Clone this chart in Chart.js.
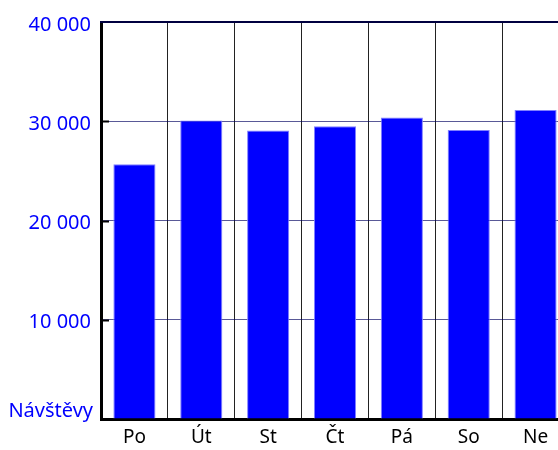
<!DOCTYPE html>
<html>
<head>
<meta charset="utf-8">
<script src="https://cdn.jsdelivr.net/npm/chart.js@4"></script>
<style>
  html, body { margin: 0; padding: 0; overflow: hidden; background: #fff; }
  #wrap { width: 580px; height: 450px; }
</style>
</head>
<body>
<div id="wrap"><canvas id="myChart" width="580" height="450"></canvas></div>
<script>
// data
var days = ["Po", "Út", "St", "Čt", "Pá", "So", "Ne"];
var visits = [25670, 30070, 29070, 29500, 30370, 29130, 31130];
var yTicks = [0, 10000, 20000, 30000, 40000];
var yTitle = "Návštěvy";

function fmt(v) {
    return String(v).replace(/\B(?=(\d{3})+(?!\d))/g, ' ');
}

// top border, little inward ticks and the "Návštěvy" label
var extras = {
    id: 'extras',
    afterDraw: function (chart) {
        var c = chart.ctx, a = chart.chartArea, y = chart.scales.y;
        c.save();
        c.strokeStyle = '#000040';
        c.lineWidth = 2;
        c.beginPath();
        c.moveTo(a.left - 1, a.top);
        c.lineTo(a.right, a.top);
        c.stroke();

        c.strokeStyle = '#000';
        c.lineWidth = 2;
        yTicks.forEach(function (t) {
            if (t === 0 || t === 40000) return;
            var py = Math.round(y.getPixelForValue(t)) + 0.5;
            c.beginPath();
            c.moveTo(a.left, py);
            c.lineTo(a.left + 8, py);
            c.stroke();
        });

        c.fillStyle = '#0000ff';
        c.font = '20px "Noto Sans"';
        c.textAlign = 'right';
        c.textBaseline = 'middle';
        c.fillText(yTitle, a.left - 8, y.getPixelForValue(0) - 8);
        c.restore();
    }
};

var ctx = document.getElementById('myChart').getContext('2d');
var chart = new Chart(ctx, {
    type: 'bar',
    data: {
        labels: days,
        datasets: [{
            data: visits,
            backgroundColor: '#0000ff',
            borderColor: '#8080ff',
            borderWidth: 1,
            barPercentage: 0.63,
            categoryPercentage: 1
        }]
    },
    options: {
        responsive: false,
        animation: false,
        layout: { padding: { top: 19, right: 11, left: 0, bottom: 0 } },
        plugins: { legend: { display: false }, tooltip: { enabled: false } },
        scales: {
            x: {
                offset: true,
                afterFit: function (s) { s.height = 31; },
                grid: { offset: true, color: '#222', lineWidth: 1, drawTicks: false },
                border: { color: '#000', width: 3 },
                ticks: { color: '#000', padding: 7, font: { family: 'Noto Sans', size: 19 } }
            },
            y: {
                z: 1,
                min: 0,
                max: 40000,
                afterFit: function (s) { s.width = 101; },
                afterBuildTicks: function (s) {
                    s.ticks = yTicks.map(function (v) { return { value: v }; });
                },
                grid: { color: 'rgba(0,0,96,0.65)', lineWidth: 1, drawTicks: false },
                border: { color: '#000', width: 3 },
                ticks: {
                    color: '#0000ff',
                    padding: 10,
                    labelOffset: 3,
                    font: { family: 'Noto Sans', size: 20 },
                    callback: function (v) { return v === 0 ? '' : fmt(v); }
                }
            }
        }
    },
    plugins: [extras]
});
</script>
</body>
</html>
